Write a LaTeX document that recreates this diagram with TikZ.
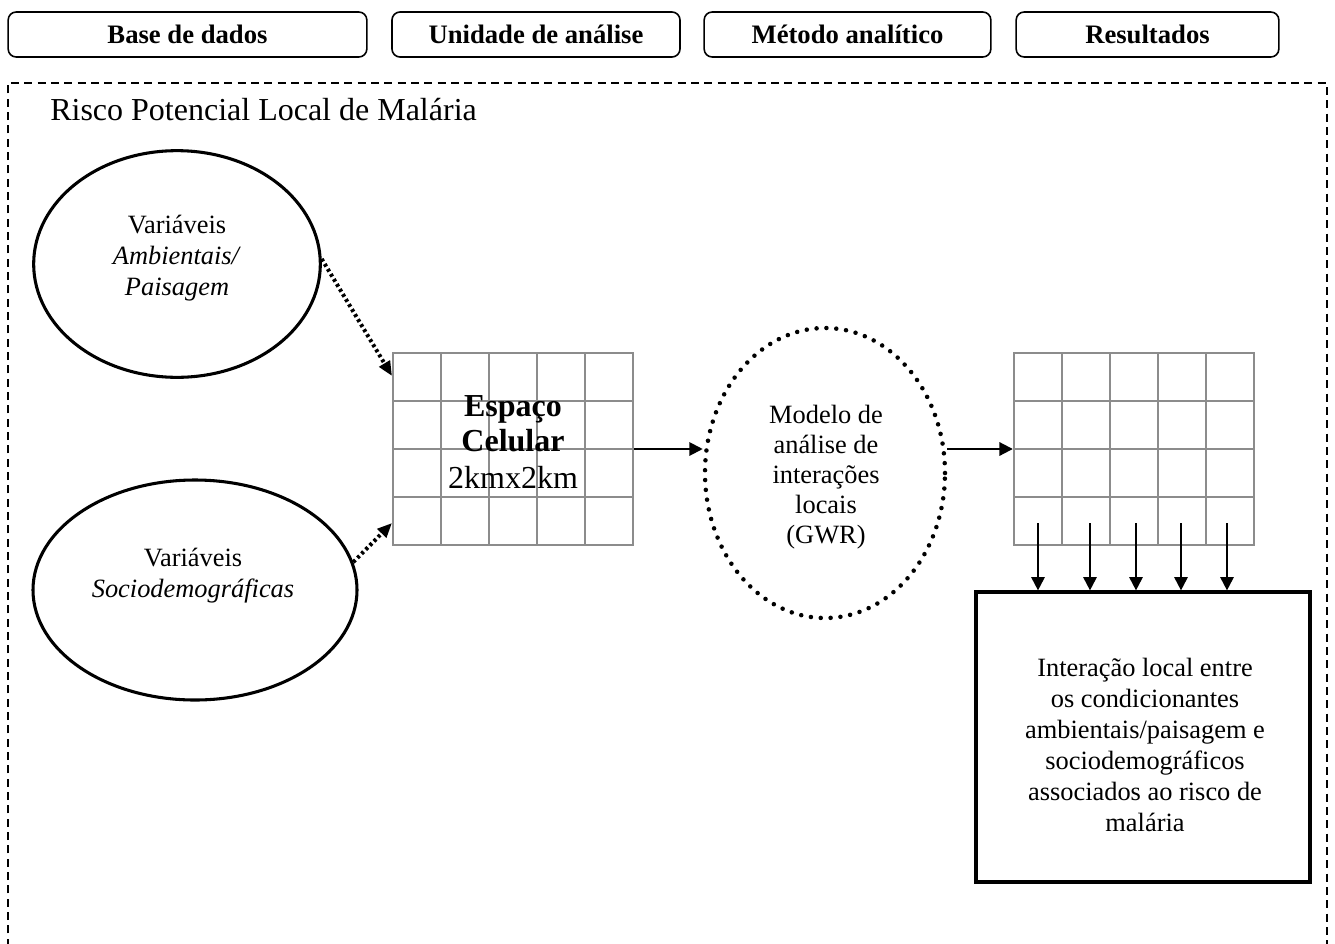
\documentclass[tikz,border=0pt]{standalone}
\usepackage{fontspec}
\setmainfont{Liberation Serif}
\usetikzlibrary{shapes.geometric,arrows.meta}
\begin{document}
\begin{tikzpicture}[x=0.75pt,y=-0.75pt,
  hdr/.style={draw,rounded corners=6pt,line width=1.2pt,minimum height=33.75pt,inner sep=0pt,font=\fontsize{20pt}{24pt}\selectfont\bfseries},
  oval/.style={draw,ellipse,line width=2.3pt,inner sep=0pt,align=center,font=\fontsize{19.8pt}{24pt}\selectfont},
  gridbox/.style={draw=gray!90,line width=1.8pt,inner sep=0pt,minimum width=180pt,minimum height=144pt},
  gridline/.style={draw=gray!90,line width=1.8pt},
  arr/.style={line width=1.5pt,-{Triangle[length=10pt,width=10pt]}},
  dotarr/.style={line width=3pt,dash pattern=on 2.2pt off 2.2pt,-{Triangle[length=11pt,width=9pt]}},
  txt/.style={align=center,inner sep=0pt,font=\fontsize{19.8pt}{23.3pt}\selectfont}
]
\useasboundingbox (0,0) rectangle (1335,943);
\clip (0,0) rectangle (1335,943);
% header
\node[hdr,minimum width=269pt] (h1) at (187.5,34.5) {Base de dados};
\node[hdr,minimum width=216pt] (h2) at (536,34.5) {Unidade de análise};
\node[hdr,minimum width=215pt] (h3) at (847.5,34.5) {Método analítico};
\node[hdr,minimum width=197pt] (h4) at (1147.5,34.5) {Resultados};
% dashed frame
\draw[line width=1.5pt,dash pattern=on 6pt off 4pt] (8,960) -- (8,83) -- (1327,83) -- (1327,960);
\node[anchor=west,inner sep=0pt,font=\fontsize{24pt}{28pt}\selectfont] (title) at (50,110) {Risco Potencial Local de Malária};
% ellipses
\node[oval,minimum width=215pt,minimum height=170pt] (e1) at (177,264) {};
\node[txt] (t1) at (177,258) {Variáveis\\\textit{Ambientais/}\\\textit{Paisagem}};
\node[oval,minimum width=243pt,minimum height=165pt] (e2) at (195,590) {};
\node[txt] (t2) at (193,576) {Variáveis\\\textit{Sociodemográficas}};
% grid 1
\node[gridbox] (g1) at (513,449) {};
\foreach \i in {1,...,4} \draw[gridline] (393+48*\i,353) -- (393+48*\i,545);
\foreach \j in {1,...,3} \draw[gridline] (393,353+48*\j) -- (633,353+48*\j);
\node[align=center,inner sep=0pt,font=\fontsize{24pt}{27pt}\selectfont] (g1t) at (513,442) {\textbf{Espaço}\\[-1pt]\textbf{Celular}\\[1pt]2kmx2km};
% model ellipse
\node[draw,ellipse,line width=3.4pt,line cap=round,dash pattern=on 0pt off 7.4pt,minimum width=180pt,minimum height=217.5pt,inner sep=0pt] (m) at (825,473) {};
\node[txt,font=\fontsize{19.8pt}{22.5pt}\selectfont] (mt) at (826,477) {Modelo de\\análise de\\interações\\locais\\(GWR)};
% grid 2
\node[gridbox] (g2) at (1134,449) {};
\foreach \i in {1,...,4} \draw[gridline] (1014+48*\i,353) -- (1014+48*\i,545);
\foreach \j in {1,...,3} \draw[gridline] (1014,353+48*\j) -- (1254,353+48*\j);
% result box
\node[draw,line width=2.4pt,minimum width=250.5pt,minimum height=217.5pt,inner sep=0pt] (res) at (1143,737) {};
\node[txt] (rt) at (1145,745) {Interação local entre\\os condicionantes\\ambientais/paisagem e\\sociodemográficos\\associados ao risco de\\malária};
% connectors
\coordinate (a1) at (392,376);
\coordinate (a2) at (392,523);
\draw[dotarr] (e1.2) -- (a1);
\draw[dotarr] (e2.10) -- (a2);
\draw[arr] (g1.east) -- (g1.east -| m.west);
\draw[arr] (g2.west -| m.east) -- (g2.west);
\coordinate (c1) at (1038,523);
\coordinate (c2) at (1090,523);
\coordinate (c3) at (1136,523);
\coordinate (c4) at (1181,523);
\coordinate (c5) at (1227,523);
\foreach \c in {c1,c2,c3,c4,c5} \draw[arr] (\c) -- (\c |- res.north);
\end{tikzpicture}
\end{document}
